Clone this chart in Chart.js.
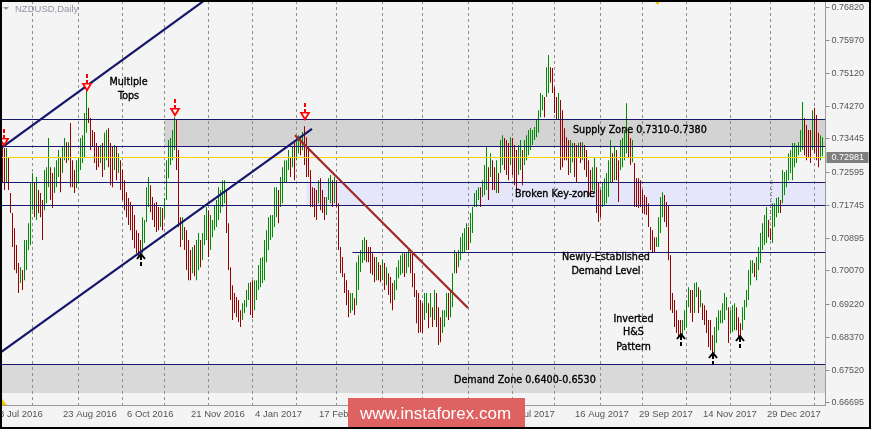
<!DOCTYPE html>
<html>
<head>
<meta charset="utf-8">
<script src="https://cdn.jsdelivr.net/npm/chart.js@4/dist/chart.umd.min.js"></script>
<style>
  html, body { margin: 0; padding: 0; background: #f4f4f4; }
  canvas { display: block; background: #f4f4f4; }
</style>
</head>
<body>
<canvas id="chart" width="871" height="429"></canvas>
<script>
// NZDUSD daily bars, 8 Jul 2016 .. early Feb 2018, prices in pips (x 0.0001)
const highPips = [
  7329,7321,7321,7298,7206,7155,7116,7073,7027,7016,
  7009,7086,7086,7129,7234,7257,7234,7247,7214,7206,
  7188,7265,7272,7347,7272,7257,7272,7290,7316,7298,
  7324,7347,7336,7336,7385,7290,7265,7290,7298,7347,
  7354,7411,7488,7424,7398,7367,7362,7334,7324,7329,
  7334,7360,7367,7372,7334,7324,7329,7324,7308,7290,
  7265,7239,7208,7193,7183,7175,7150,7111,7104,7086,
  7144,7137,7221,7247,7226,7196,7180,7183,7170,7170,
  7168,7193,7290,7342,7347,7367,7400,7393,7316,7144,
  7144,7119,7111,7086,7060,7068,7073,7086,7104,7086,
  7104,7150,7170,7162,7150,7137,7175,7188,7221,7214,
  7239,7239,7214,7129,7016,6970,6950,6940,6932,6906,
  6924,6932,6958,6976,6978,6983,6983,6983,7022,7040,
  7042,7086,7111,7144,7150,7150,7221,7221,7214,7247,
  7272,7290,7290,7316,7298,7324,7334,7349,7354,7349,
  7362,7377,7349,7324,7265,7221,7219,7214,7239,7244,
  7214,7196,7196,7244,7252,7239,7247,7239,7180,7068,
  7042,7001,6983,6958,6950,6950,6937,7029,7047,7060,
  7086,7093,7086,7068,7068,7052,7042,7042,7029,7022,
  7034,7027,7016,7001,6991,6976,6983,7016,7034,7047,
  7052,7052,7052,7060,7052,7052,7001,6958,6950,6932,
  6924,6950,6950,6924,6950,6914,6958,6950,6914,6888,
  6906,6906,6950,6950,6958,7001,7060,7052,7060,7093,
  7104,7116,7129,7119,7155,7170,7206,7214,7221,7221,
  7239,7278,7324,7272,7308,7290,7272,7290,7257,7342,
  7354,7347,7342,7334,7349,7347,7329,7316,7329,7342,
  7316,7342,7354,7367,7372,7367,7375,7393,7418,7462,
  7457,7452,7528,7559,7528,7526,7477,7452,7462,7444,
  7418,7372,7349,7342,7342,7334,7334,7329,7334,7336,
  7336,7329,7316,7290,7265,7272,7298,7272,7234,7214,
  7234,7244,7257,7290,7342,7308,7324,7316,7290,7342,
  7347,7367,7436,7362,7347,7342,7283,7244,7244,7239,
  7214,7201,7196,7180,7119,7111,7093,7093,7144,7196,
  7208,7201,7183,7175,7047,6950,6932,6906,6881,6881,
  6881,6906,6932,6965,6958,6958,6976,6978,6965,6958,
  6924,6919,6906,6881,6881,6842,6863,6888,6906,6906,
  6924,6950,6940,6914,6906,6919,6924,6914,6888,6873,
  6914,6932,6958,7009,7034,7034,7027,7042,7068,7104,
  7129,7150,7170,7137,7116,7180,7180,7193,7196,7188,
  7265,7260,7265,7308,7316,7334,7334,7329,7336,7367,
  7439,7398,7380,7367,7367,7418,7424,7406,7360,7354,
  7349
];
const lowPips = [
  7232,7214,7234,7214,7155,7068,7009,7001,6950,6976,
  6958,6983,7009,7060,7073,7162,7144,7137,7155,7144,
  7086,7162,7180,7221,7188,7168,7206,7221,7247,7208,
  7257,7290,7283,7290,7221,7221,7206,7219,7234,7265,
  7283,7298,7360,7385,7316,7324,7283,7265,7272,7283,
  7247,7265,7290,7272,7226,7221,7265,7239,7257,7214,
  7188,7162,7144,7124,7111,7086,7065,7052,7045,7047,
  7052,7078,7132,7170,7157,7137,7119,7106,7111,7119,
  7111,7142,7188,7244,7278,7290,7316,7265,7119,7068,
  7086,7060,7009,6983,6983,7001,6993,6983,7009,7016,
  7034,7073,7086,7042,7060,7093,7111,7119,7137,7155,
  7170,7180,7104,7009,6932,6881,6899,6888,6876,6863,
  6881,6899,6914,6932,6894,6886,6906,6932,6958,6965,
  6976,6983,7029,7060,7086,7093,7119,7144,7129,7170,
  7180,7234,7234,7265,7247,7272,7239,7290,7308,7303,
  7316,7278,7247,7247,7170,7170,7144,7137,7180,7162,
  7155,7137,7150,7188,7180,7170,7180,7170,7060,7001,
  6991,6950,6919,6888,6899,6906,6894,6919,6958,7004,
  7027,7034,7029,7029,7001,6996,6978,6983,6983,6978,
  6983,6958,6970,6945,6924,6906,6932,6958,6988,6996,
  7001,6991,7001,7016,7001,6965,6940,6873,6848,6850,
  6848,6881,6899,6860,6888,6863,6881,6863,6817,6824,
  6848,6863,6888,6881,6888,6914,7001,7001,7016,7034,
  7052,7055,7060,7060,7078,7104,7170,7170,7188,7170,
  7196,7201,7214,7188,7247,7214,7214,7206,7206,7257,
  7278,7265,7252,7239,7278,7252,7226,7214,7252,7265,
  7226,7278,7290,7303,7316,7329,7342,7349,7360,7400,
  7418,7400,7452,7462,7488,7462,7411,7393,7393,7265,
  7272,7290,7290,7252,7257,7285,7247,7234,7298,7283,
  7290,7265,7247,7196,7196,7214,7206,7155,7132,7144,
  7170,7175,7180,7196,7234,7234,7239,7239,7183,7265,
  7272,7290,7308,7298,7278,7285,7170,7170,7168,7170,
  7155,7152,7150,7119,7060,7055,7055,7068,7068,7104,
  7144,7132,7119,7034,6906,6899,6863,6848,6837,6830,
  6837,6855,6863,6914,6899,6876,6899,6940,6899,6914,
  6881,6868,6848,6812,6804,6786,6796,6822,6855,6873,
  6873,6881,6906,6822,6848,6850,6855,6855,6835,6837,
  6855,6881,6914,6932,6970,7001,6991,6983,7009,7027,
  7060,7073,7078,7093,7086,7078,7119,7144,7155,7155,
  7180,7201,7221,7239,7257,7239,7272,7283,7303,7311,
  7316,7303,7290,7296,7283,7316,7308,7290,7272,7290,
  7300
];

// bar index of the first bar of each month (vertical grid)
const monthStarts = [15, 38, 60, 81, 103, 125, 147, 167, 190, 210, 233, 255, 276, 299, 320, 342, 364, 384, 406];
// date labels on the time axis
const dateTickIdx = [-1, 31, 63, 95, 127, 159, 191, 223, 255, 287, 319, 351, 383];
const dateTickText = ['8 Jul 2016', '23 Aug 2016', '6 Oct 2016', '21 Nov 2016', '4 Jan 2017', '17 Feb 2017',
  '4 Apr 2017', '18 May 2017', '3 Jul 2017', '16 Aug 2017', '29 Sep 2017', '14 Nov 2017', '29 Dec 2017'];
// price axis labels
const priceTicks = [0.76820, 0.75970, 0.75120, 0.74270, 0.73445, 0.72595, 0.71745, 0.70895,
  0.70070, 0.69220, 0.68370, 0.67520, 0.66695];
const lastPrice = 0.72981;

// zones [low, high, first bar]
const supplyZone = [0.7326, 0.7393, 81];
const keyZone = [0.7173, 0.7234, 152];
const demandZone = [0.6694, 0.6768, -1];
const demandLevel = [0.7055, 175];

// trend lines [[bar, price], [bar, price]]
const channelUpper = [[-1.25, 0.7319], [101.25, 0.7700]];
const channelLower = [[-1.25, 0.6797], [154.75, 0.7370]];
const redTrend = [[146.25, 0.7354], [232.75, 0.6912]];

// arrows [bar, price at tip]
const topArrows = [[0.75, 0.7324], [42.25, 0.7465], [86, 0.7400], [151, 0.7390]];
const lowArrows = [[69, 0.7052], [339, 0.6848], [355, 0.6799], [368.5, 0.6842]];

// notes [text, bar, price, align]
const notes = [
  ['Multiple', 63, 0.7488, 'center'],
  ['Tops', 63, 0.7452, 'center'],
  ['Supply Zone 0.7310-0.7380', 285.25, 0.7365, 'left'],
  ['Broken Key-zone', 256.25, 0.7201, 'left'],
  ['Newly-Established', 301.75, 0.7040, 'center'],
  ['Demand Level', 301.75, 0.7004, 'center'],
  ['Inverted', 315.5, 0.6883, 'center'],
  ['H&S', 315.5, 0.6848, 'center'],
  ['Pattern', 315.5, 0.6812, 'center'],
  ['Demand Zone 0.6400-0.6530', 225.75, 0.6727, 'left']
];

const slots = 412;
const labels = Array.from({ length: slots }, (_, i) => i);
const ranges = highPips.map((h, i) => [lowPips[i] / 10000, h / 10000]);
const mids = highPips.map((h, i) => (h + lowPips[i]) / 2);
const barColors = mids.map((m, i) => (i > 0 && m >= mids[i - 1]) ? '#008c00' : '#990000');

const NAVY = '#16166b';

const overlay = {
  id: 'overlay',
  beforeDraw(chart) {
    const { ctx, chartArea: a, scales: { x, y } } = chart;
    ctx.save();
    for (const [lo, hi, from, col] of [[...supplyZone, '#d3d3d3'], [...keyZone, '#e6e6fa'], [...demandZone, '#d9d9d9']]) {
      const x0 = Math.max(a.left, x.getPixelForValue(from));
      const y0 = Math.round(y.getPixelForValue(hi));
      const y1 = Math.round(y.getPixelForValue(lo));
      ctx.fillStyle = col;
      ctx.fillRect(x0, y0, a.right - x0, y1 - y0);
    }
    ctx.restore();
  },
  afterDatasetsDraw(chart) {
    const { ctx, chartArea: a, scales: { x, y } } = chart;
    ctx.save();
    ctx.beginPath();
    ctx.rect(0, a.top, a.right, a.bottom - a.top);
    ctx.clip();

    const hline = (v, from, col) => {
      const py = Math.floor(y.getPixelForValue(v)) + 0.5;
      const x0 = from == null ? 0 : x.getPixelForValue(from);
      ctx.strokeStyle = col;
      ctx.lineWidth = 1;
      ctx.beginPath();
      ctx.moveTo(x0, py);
      ctx.lineTo(a.right, py);
      ctx.stroke();
    };
    hline(lastPrice, null, '#ffd200');
    hline(supplyZone[1], null, NAVY);
    hline(supplyZone[0], null, NAVY);
    hline(keyZone[1], null, NAVY);
    hline(keyZone[0], null, NAVY);
    hline(demandLevel[0], demandLevel[1], NAVY);
    hline(demandZone[1], null, NAVY);

    const seg = (pts, col, w) => {
      ctx.strokeStyle = col;
      ctx.lineWidth = w;
      ctx.beginPath();
      ctx.moveTo(x.getPixelForValue(pts[0][0]), y.getPixelForValue(pts[0][1]));
      ctx.lineTo(x.getPixelForValue(pts[1][0]), y.getPixelForValue(pts[1][1]));
      ctx.stroke();
    };
    seg(channelUpper, NAVY, 2.2);
    seg(channelLower, NAVY, 2.2);
    seg(redTrend, '#a02828', 2.2);

    // small dotted cursor line near the last rally
    ctx.setLineDash([1, 2]);
    seg([[384.75, 0.7239], [383.75, 0.7130]], '#555', 1);
    ctx.setLineDash([]);

    // red arrows above the tops
    for (const [i, p] of topArrows) {
      const px = Math.round(x.getPixelForValue(i)), py = Math.round(y.getPixelForValue(p));
      ctx.fillStyle = '#ff0000';
      ctx.fillRect(px - 1, py - 18, 2, 4);
      ctx.fillRect(px - 1, py - 12, 2, 3);
      ctx.beginPath();
      ctx.moveTo(px - 5.5, py - 9);
      ctx.lineTo(px + 5.5, py - 9);
      ctx.lineTo(px, py);
      ctx.closePath();
      ctx.fill();
      ctx.fillStyle = '#ffffff';
      ctx.beginPath();
      ctx.moveTo(px - 2.5, py - 7.5);
      ctx.lineTo(px + 2.5, py - 7.5);
      ctx.lineTo(px, py - 3.5);
      ctx.closePath();
      ctx.fill();
    }
    // black arrows under the lows
    for (const [i, p] of lowArrows) {
      const px = Math.round(x.getPixelForValue(i)), py = Math.round(y.getPixelForValue(p));
      ctx.strokeStyle = '#000';
      ctx.lineWidth = 2;
      ctx.beginPath();
      ctx.moveTo(px - 4, py + 6);
      ctx.lineTo(px, py + 1);
      ctx.lineTo(px + 4, py + 6);
      ctx.stroke();
      ctx.fillStyle = '#000';
      ctx.fillRect(px - 1, py + 2, 2, 5);
      ctx.fillRect(px - 1, py + 9, 2, 4);
    }

    ctx.fillStyle = '#000';
    ctx.strokeStyle = '#000';
    ctx.lineWidth = 0.35;
    ctx.font = '9.6px "DejaVu Sans"';
    ctx.textBaseline = 'middle';
    for (const [t, i, p, al] of notes) {
      ctx.textAlign = al;
      const tx = x.getPixelForValue(i), ty = y.getPixelForValue(p);
      ctx.fillText(t, tx, ty);
      ctx.strokeText(t, tx, ty);
    }
    ctx.restore();
  },
  afterDraw(chart) {
    const { ctx, chartArea: a, scales: { x, y } } = chart;
    ctx.save();
    // date labels
    ctx.font = '9.5px "Liberation Sans"';
    ctx.fillStyle = '#555';
    ctx.textAlign = 'left';
    ctx.textBaseline = 'middle';
    dateTickIdx.forEach((i, k) => {
      ctx.fillText(dateTickText[k], x.getPixelForValue(i) - 1.5, a.bottom + 9);
    });
    // current price box
    const py = y.getPixelForValue(lastPrice);
    ctx.fillStyle = '#7f7f7f';
    ctx.fillRect(a.right + 1, Math.round(py) - 5, 42, 11);
    ctx.fillStyle = '#fff';
    ctx.font = '9px "Liberation Sans"';
    ctx.fillText(lastPrice.toFixed(5), a.right + 6, Math.round(py) + 0.5);
    // chart-shift markers
    ctx.fillStyle = '#f5c400';
    const mx = x.getPixelForValue(327.5);
    ctx.beginPath();
    ctx.moveTo(mx - 4, 0); ctx.lineTo(mx + 4, 0); ctx.lineTo(mx, 5); ctx.closePath(); ctx.fill();
    ctx.beginPath();
    ctx.moveTo(2, a.bottom - 6); ctx.lineTo(2, a.bottom); ctx.lineTo(7, a.bottom); ctx.closePath(); ctx.fill();
    // title
    ctx.fillStyle = '#8f96a3';
    ctx.beginPath();
    ctx.moveTo(3, 7); ctx.lineTo(9, 7); ctx.lineTo(6, 10); ctx.closePath(); ctx.fill();
    ctx.font = '9.5px "Liberation Sans"';
    ctx.fillText('NZDUSD,Daily', 15, 9);
    // watermark
    ctx.fillStyle = '#df6262';
    ctx.fillRect(348, 398, 177, 31);
    ctx.fillStyle = '#fff';
    ctx.font = '17px "Liberation Sans"';
    ctx.textAlign = 'center';
    ctx.fillText('www.instaforex.com', 435.5, 414);
    // frame
    ctx.strokeStyle = '#000';
    ctx.lineWidth = 2;
    ctx.strokeRect(1, 1, 869, 427);
    ctx.restore();
  }
};

new Chart(document.getElementById('chart'), {
  type: 'bar',
  data: {
    labels: labels,
    datasets: [{
      data: ranges,
      backgroundColor: barColors,
      borderWidth: 0,
      barThickness: 1,
      inflateAmount: 0,
      grouped: false
    }]
  },
  options: {
    responsive: false,
    animation: false,
    devicePixelRatio: 1,
    events: [],
    layout: { padding: { left: 1.5, top: 1, right: 0, bottom: 0 } },
    plugins: { legend: { display: false }, tooltip: { enabled: false } },
    scales: {
      x: {
        type: 'category',
        offset: true,
        grid: { display: true, offset: false, color: '#8e8e8e', lineWidth: 1, drawTicks: false },
        border: { display: true, color: '#9a9a9a', dash: [3, 3] },
        ticks: { display: false },
        afterBuildTicks: (s) => { s.ticks = monthStarts.map(v => ({ value: v })); },
        afterFit: (s) => { s.height = 24; s.paddingLeft = 0; s.paddingRight = 0; }
      },
      y: {
        position: 'right',
        min: 0.66636,
        max: 0.76974,
        grid: { display: true, drawOnChartArea: false, drawTicks: true, tickLength: 4, color: '#8a8a8a' },
        border: { display: true, color: '#9a9a9a' },
        ticks: {
          autoSkip: false,
          padding: 2,
          color: '#555',
          font: { family: 'Liberation Sans', size: 9 },
          callback: (v) => Number(v).toFixed(5)
        },
        afterBuildTicks: (s) => { s.ticks = priceTicks.map(v => ({ value: v })); },
        afterFit: (s) => { s.width = 45.5; s.paddingTop = 0; s.paddingBottom = 0; }
      }
    }
  },
  plugins: [overlay]
});
</script>
</body>
</html>
